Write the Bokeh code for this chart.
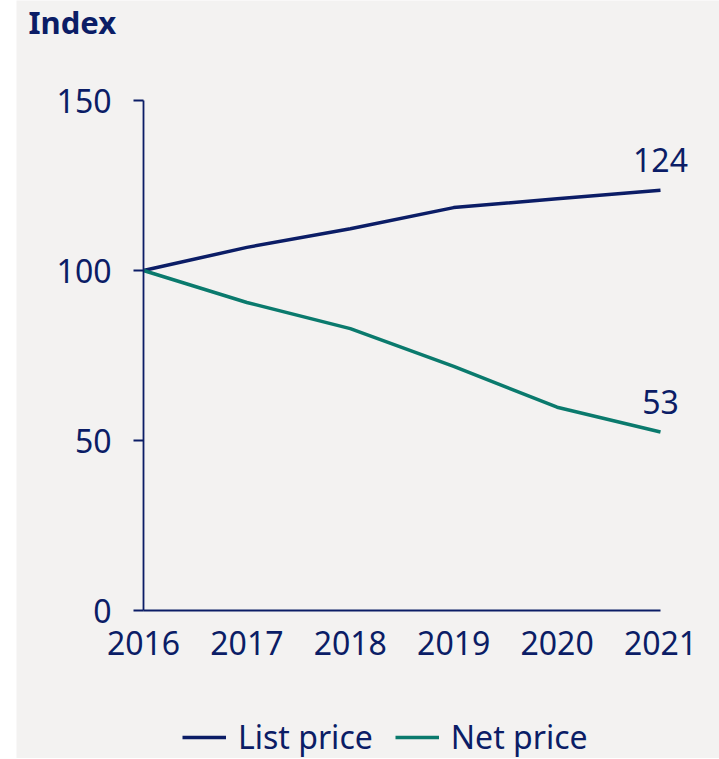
from bokeh.plotting import figure
from bokeh.models import (Range1d, FixedTicker, Label, Legend, LegendItem, Spacer, Row)
from bokeh.embed import file_html
from bokeh.resources import INLINE

years = [2016, 2017, 2018, 2019, 2020, 2021]
list_price = [100, 106.8, 112.3, 118.5, 121.1, 123.6]
net_price = [100, 90.6, 82.9, 71.8, 59.8, 52.5]
y_ticks = [0, 50, 100, 150]
end_labels = ["124", "53"]
series_names = ["List price", "Net price"]

NAVY = "#0b1d66"
TEAL = "#0a7a6d"
BG = "#f3f2f1"
FONT = "Noto Sans"
FS = "32px"

W, H = 703, 758
# pixel layout of the plotting area inside the canvas
px_left, px_right, px_top, px_bottom = 127, 644, 100, 610
xs = (px_right - px_left) / (years[-1] - years[0])
ys = (px_bottom - px_top) / (y_ticks[-1] - y_ticks[0])
x_range = Range1d(years[0] - px_left / xs, years[-1] + (W - px_right) / xs)
y_range = Range1d(y_ticks[0] - (H - px_bottom) / ys, y_ticks[-1] + px_top / ys)

p = figure(width=W, height=H, output_backend="svg", toolbar_location=None,
           x_range=x_range, y_range=y_range,
           min_border_left=0, min_border_right=0, min_border_top=0,
           min_border_bottom=0)
p.background_fill_color = BG
p.border_fill_color = BG
p.outline_line_color = None
p.grid.visible = False

# axes
p.xaxis.ticker = FixedTicker(ticks=years)
p.xaxis.bounds = (years[0], years[-1])
p.xaxis.fixed_location = y_ticks[0]
p.yaxis.ticker = FixedTicker(ticks=y_ticks)
p.yaxis.bounds = (y_ticks[0], y_ticks[-1])
p.yaxis.fixed_location = years[0]
for ax in (p.xaxis[0], p.yaxis[0]):
    ax.axis_line_color = NAVY
    ax.axis_line_width = 1.8
    ax.major_tick_line_color = NAVY
    ax.major_tick_line_width = 1.8
    ax.minor_tick_line_color = None
    ax.major_label_text_color = NAVY
    ax.major_label_text_font = FONT
    ax.major_label_text_font_size = FS
p.xaxis.major_tick_out = 0
p.xaxis.major_tick_in = 0
p.xaxis.major_label_standoff = 20
p.yaxis.major_tick_out = 10
p.yaxis.major_tick_in = 0
p.yaxis.major_label_standoff = 22

r1 = p.line(years, list_price, line_color=NAVY, line_width=3.5)
r2 = p.line(years, net_price, line_color=TEAL, line_width=3.5)

for vals, txt in ((list_price, end_labels[0]), (net_price, end_labels[1])):
    p.add_layout(Label(x=years[-1], y=vals[-1], text=txt, y_offset=30,
                       text_align="center", text_baseline="alphabetic",
                       text_color=NAVY, text_font=FONT, text_font_size=FS))

p.add_layout(Label(x=12, y=H - 21, x_units="screen", y_units="screen", text="Index",
                   text_align="left", text_baseline="alphabetic",
                   text_color=NAVY, text_font=FONT, text_font_size="31px",
                   text_font_style="bold"))

legend = Legend(items=[LegendItem(label=series_names[0], renderers=[r1]),
                       LegendItem(label=series_names[1], renderers=[r2])],
                orientation="horizontal", location=(166, 0),
                label_text_font=FONT, label_text_font_size=FS,
                label_text_color=NAVY, glyph_width=44, glyph_height=20,
                label_standoff=12, spacing=22, padding=0, margin=0,
                border_line_color=None, background_fill_alpha=0)
p.add_layout(legend)

layout = Row(Spacer(width=16, height=H), p, spacing=0)
open("out.html", "w").write(file_html(layout, INLINE))
